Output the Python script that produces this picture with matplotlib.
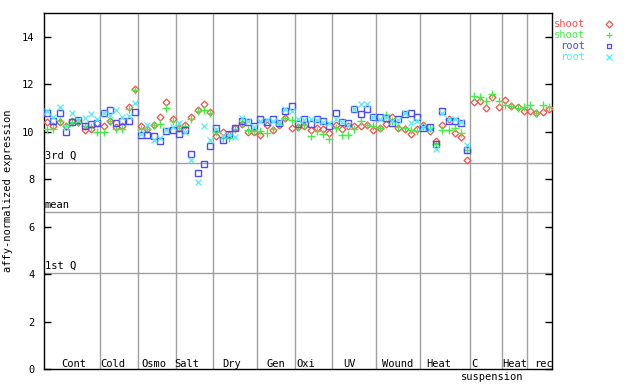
import numpy as np
from matplotlib import pyplot as plt

# 样本分组
groups = ['Cont', 'Cold', 'Osmo', 'Salt', 'Dry', 'Gen', 'Oxi', 'UV',
          'Wound', 'Heat', 'C', 'Heat', 'rec']
group_sizes = [9, 6, 6, 6, 7, 6, 6, 7, 7, 8, 5, 4, 4]
label_pos = [4.3, 10.5, 17.0, 22.2, 29.4, 36.4, 41.3, 48.2,
             55.9, 62.5, 68.1, 74.5, 79.1]

# 各系列表达量
shoot_red = [10.40, 10.23, 10.42, 10.26, 10.45, 10.42, 10.09, 10.13, 10.38,
             10.23, 10.47, 10.20, 10.25, 11.04, 11.82,
             10.23, 10.10, 10.30, 10.61, 11.26, 10.52,
             10.15, 10.27, 10.62, 10.91, 11.17, 10.83,
             9.81, 9.99, 9.85, 10.15, 10.33, 10.00, 9.98,
             9.85, 10.28, 10.09, 10.30, 10.59, 10.16,
             10.20, 10.25, 10.09, 10.16, 10.13, 9.95,
             10.30, 10.13, 10.23, 10.23, 10.23, 10.30, 10.09,
             10.16, 10.33, 10.61, 10.16, 10.13, 9.91, 10.10,
             10.30, 10.02, 9.60, 10.30, 10.52, 9.95, 9.77, 8.79,
             11.25, 11.29, 11.01, 11.46, 11.04,
             11.32, 11.08, 11.04, 10.89,
             10.87, 10.80, 10.84, 10.94]
shoot_green = [10.10, 10.13, 10.45, 10.23, 10.42, 10.42, 10.25, 10.20, 9.99,
               9.99, 10.45, 10.10, 10.13, 10.94, 11.75,
               10.10, 10.10, 10.30, 10.33, 11.01, 10.45,
               10.16, 10.23, 10.52, 10.87, 10.91, 10.80,
               9.99, 9.74, 9.74, 10.13, 10.35, 10.06, 10.05,
               10.05, 9.95, 10.10, 10.34, 10.56, 10.49,
               10.20, 10.30, 9.81, 10.02, 9.91, 9.70,
               10.16, 9.88, 9.88, 10.13, 10.45, 10.30, 10.23,
               10.16, 10.72, 10.45, 10.20, 10.16, 10.09, 10.02,
               10.25, 10.16, 9.50, 10.09, 10.09, 10.16, 9.95, 9.25,
               11.50, 11.47, 11.29, 11.60, 11.29,
               11.12, 11.08, 10.98, 11.05,
               11.12, 10.80, 11.12, 11.04]
root_blue = [10.77, 10.45, 10.80, 9.99, 10.42, 10.49, 10.23, 10.33, 10.35,
             10.80, 10.91, 10.38, 10.45, 10.45, 10.84,
             9.88, 9.85, 9.81, 9.60, 10.02, 10.06,
             9.91, 10.09, 9.07, 8.26, 8.65, 9.39,
             10.16, 9.64, 9.91, 10.16, 10.45, 10.40, 10.22,
             10.52, 10.40, 10.55, 10.37, 10.87, 11.10,
             10.33, 10.55, 10.33, 10.52, 10.45, 10.24,
             10.80, 10.41, 10.37, 10.97, 10.76, 10.94, 10.61,
             10.62, 10.59, 10.37, 10.52, 10.73, 10.80, 10.61,
             10.16, 10.19, 9.49, 10.87, 10.45, 10.44, 10.37, 9.25] + [np.nan] * 13
root_cyan = [10.87, 10.61, 11.05, 10.20, 10.77, 10.49, 10.59, 10.73, 10.52,
             10.77, 10.70, 10.91, 10.61, 10.66, 11.20,
             9.90, 10.30, 9.67, 9.74, 10.09, 10.20,
             10.35, 9.99, 8.79, 7.88, 10.23, 9.67,
             10.10, 9.80, 9.85, 9.77, 10.59, 10.45, 10.20,
             10.45, 10.50, 10.45, 10.40, 10.94, 10.87,
             10.52, 10.50, 10.52, 10.50, 10.40, 10.35,
             10.52, 10.40, 10.30, 10.97, 11.15, 11.15, 10.61,
             10.55, 10.60, 10.45, 10.50, 10.80, 10.38, 10.45,
             10.20, 10.10, 9.29, 10.80, 10.52, 10.52, 10.40, 9.46] + [np.nan] * 13

# 参考线
q3, mean, q1 = 8.68, 6.61, 4.06

x = np.arange(len(shoot_red))
mono = 'DejaVu Sans Mono'
line_grey = '#a0a0a0'

fig = plt.figure(figsize=(6.4, 3.84), dpi=100)
ax = fig.add_axes([0.06875, 0.039, 0.79375, 0.927])

# 分组竖线与分位线
bounds = np.cumsum(group_sizes)[:-1] - 0.5
for b in bounds:
    ax.axvline(b, color=line_grey, lw=1, zorder=1)
for v, name in [(q3, '3rd Q'), (mean, 'mean'), (q1, '1st Q')]:
    ax.axhline(v, color=line_grey, lw=1, zorder=1)
    ax.text(-0.4, v + 0.1, name, family=mono, fontsize=7.5, va='bottom', ha='left')

# 数据点
ax.plot(x, shoot_red, ls='none', marker='D', ms=3.5, mfc='none', mec='#ff4a4a', mew=0.9, zorder=3)
ax.plot(x, shoot_green, ls='none', marker='+', ms=5.5, color='#44ee44', mew=1.0, zorder=3)
ax.plot(x, root_blue, ls='none', marker='s', ms=4, mfc='none', mec='#4a4aff', mew=1.0, zorder=3)
ax.plot(x, root_cyan, ls='none', marker='x', ms=4, color='#55eeee', mew=0.9, zorder=3)

ax.set_xlim(-0.5, len(x) - 0.5)
ax.set_ylim(0, 15)
ax.set_xticks([])
ax.set_yticks(range(0, 15, 2))
ax.tick_params(axis='y', direction='in', length=5, width=1, right=True, pad=7,
               labelsize=7.5, labelfontfamily=mono)
for s in ax.spines.values():
    s.set_linewidth(1)
ax.set_ylabel('affy-normalized expression', family=mono, fontsize=7.5, labelpad=6)

# 分组标签
for name, p in zip(groups, label_pos):
    ax.text(p, 0.22, name, family=mono, fontsize=7.5, ha='center', va='center')
ax.text(71.0, -0.32, 'suspension', family=mono, fontsize=7.5, ha='center', va='center',
        clip_on=False)

# 图例
legend_items = [('shoot', '#ff4a4a', 'D'), ('shoot', '#44ee44', '+'),
                ('root', '#4a4aff', 's'), ('root', '#55eeee', 'x')]
for k, (name, c, m) in enumerate(legend_items):
    yy = 1 - (24 + 11 * k) / 384
    fig.text(585 / 640, yy, name, color=c, family=mono, fontsize=7.5, ha='right', va='center')
    if m in ('D', 's'):
        fig.lines.append(plt.Line2D([609 / 640], [yy], transform=fig.transFigure, ls='none',
                                    marker=m, ms=3.5, mfc='none', mec=c, mew=0.9))
    else:
        fig.lines.append(plt.Line2D([609 / 640], [yy], transform=fig.transFigure, ls='none',
                                    marker=m, ms=5, color=c, mew=0.9))

plt.savefig('out.png', dpi=100)
